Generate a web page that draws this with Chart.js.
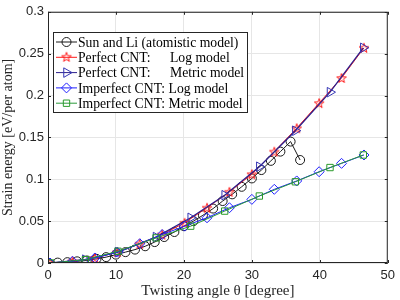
<!DOCTYPE html>
<html>
<head>
<meta charset="utf-8">
<script src="https://cdn.jsdelivr.net/npm/chart.js@4.4.1/dist/chart.umd.min.js"></script>
<style>
  html, body { margin: 0; padding: 0; background: #fff; }
  #wrap { width: 400px; height: 300px; }
</style>
</head>
<body>
<div id="wrap"><canvas id="chart"></canvas></div>
<script>
// Sun and Li (atomistic model)
var sunX = [0, 1.43, 2.85, 4.28, 5.71, 7.14, 8.56, 9.99, 11.4, 12.8, 14.3, 15.7, 17.1, 18.6,
            20.0, 21.4, 22.8, 24.3, 25.7, 27.1, 28.5, 30.0, 31.4, 32.8, 34.2, 35.7, 37.1];
var sunY = [0, 0.0005, 0.001, 0.002, 0.003, 0.005, 0.007, 0.010, 0.013, 0.016, 0.020, 0.025, 0.031, 0.037,
            0.044, 0.050, 0.057, 0.065, 0.074, 0.082, 0.091, 0.101, 0.111, 0.122, 0.133, 0.145, 0.123];

// log model points (perfect + imperfect share the angles)
var logX = [0.3, 3.6, 6.9, 10.2, 13.5, 16.8, 20.1, 23.4, 26.7, 30.0, 33.3, 36.6, 39.9, 43.2, 46.5];
var perfLogY = [0, 0.002, 0.006, 0.013, 0.023, 0.034, 0.048, 0.066, 0.085, 0.106, 0.133, 0.161, 0.191, 0.221, 0.257];
var impLogY = [0, 0.002, 0.006, 0.013, 0.023, 0.034, 0.044, 0.054, 0.066, 0.076, 0.088, 0.098, 0.109, 0.119, 0.129];

// metric model points
var metX = [0.4, 5.5, 10.3, 15.9, 21.0, 26.0, 31.1, 36.4, 41.5, 46.4];
var perfMetY = [0, 0.004, 0.013, 0.031, 0.054, 0.081, 0.115, 0.158, 0.204, 0.257];
var impMetY = [0, 0.004, 0.014, 0.030, 0.044, 0.062, 0.080, 0.097, 0.114, 0.129];

var xTicks = [0, 10, 20, 30, 40, 50];
var yTicks = [0, 0.05, 0.1, 0.15, 0.2, 0.25, 0.3];

var legendLabels = [
  ["Sun and Li (atomistic model)"],
  ["Perfect CNT:", "Log model"],
  ["Perfect CNT:", "Metric model"],
  ["Imperfect CNT: Log model"],
  ["Imperfect CNT: Metric model"]
];

function pts(xs, ys) {
  return xs.map(function (x, i) { return { x: x, y: ys[i] }; });
}

// pentagram marker like matlab 'p'
function makeStar(color) {
  var c = document.createElement('canvas');
  c.width = 12; c.height = 12;
  var g = c.getContext('2d');
  g.strokeStyle = color;
  g.lineWidth = 1;
  g.beginPath();
  for (var i = 0; i < 10; i++) {
    var r = (i % 2 === 0) ? 5 : 2;
    var a = -Math.PI / 2 + i * Math.PI / 5;
    var px = 6 + r * Math.cos(a), py = 6.5 + r * Math.sin(a);
    if (i === 0) g.moveTo(px, py); else g.lineTo(px, py);
  }
  g.closePath();
  g.stroke();
  return c;
}
var starImg = makeStar('#ff1a1a');

var none = 'rgba(0,0,0,0)';

// box around the plot area + inward ticks
var boxPlugin = {
  id: 'box',
  afterDraw: function (chart) {
    var a = chart.chartArea, ctx = chart.ctx;
    var xs = chart.scales.x, ys = chart.scales.y;
    ctx.save();
    ctx.strokeStyle = '#262626';
    ctx.lineWidth = 1;
    ctx.strokeRect(a.left + 0.5, a.top + 0.5, a.right - a.left - 1, a.bottom - a.top - 1);
    ctx.beginPath();
    xTicks.forEach(function (v) {
      var p = Math.round(xs.getPixelForValue(v)) + 0.5;
      ctx.moveTo(p, a.bottom); ctx.lineTo(p, a.bottom - 3);
      ctx.moveTo(p, a.top); ctx.lineTo(p, a.top + 3);
    });
    yTicks.forEach(function (v) {
      var p = Math.round(ys.getPixelForValue(v)) + 0.5;
      ctx.moveTo(a.left, p); ctx.lineTo(a.left + 3, p);
      ctx.moveTo(a.right, p); ctx.lineTo(a.right - 3, p);
    });
    ctx.stroke();
    ctx.restore();
  }
};

// matlab-style legend box in the upper left
var legendPlugin = {
  id: 'boxLegend',
  afterDraw: function (chart) {
    var ctx = chart.ctx;
    var bx = 53, by = 32, bw = 194, bh = 80;
    ctx.save();
    ctx.fillStyle = '#fff';
    ctx.fillRect(bx, by, bw, bh);
    ctx.strokeStyle = '#262626';
    ctx.lineWidth = 1;
    ctx.strokeRect(bx + 0.5, by + 0.5, bw, bh);
    chart.data.datasets.forEach(function (ds, row) {
      var y = by + 10 + row * 15.3;
      ctx.strokeStyle = ds.borderColor;
      ctx.lineWidth = 1;
      ctx.beginPath();
      ctx.moveTo(bx + 3, y); ctx.lineTo(bx + 24, y);
      ctx.stroke();
      if (ds.pointStyle instanceof HTMLCanvasElement) {
        ctx.drawImage(ds.pointStyle, bx + 13.5 - 6, y - 6.5);
      } else {
        ctx.fillStyle = none;
        ctx.strokeStyle = ds.pointBorderColor;
        Chart.helpers.drawPoint(ctx, {
          pointStyle: ds.pointStyle,
          rotation: ds.pointRotation || 0,
          radius: ds.pointRadius,
          borderWidth: 1
        }, bx + 13.5, y);
      }
      ctx.fillStyle = '#000';
      ctx.font = '13.7px "Liberation Serif"';
      ctx.textBaseline = 'middle';
      var lab = legendLabels[row];
      ctx.fillText(lab[0], bx + 25, y + 1);
      if (lab[1]) ctx.fillText(lab[1], bx + 117, y + 1);
    });
    ctx.restore();
  }
};

var ctx = document.getElementById('chart').getContext('2d');

new Chart(ctx, {
  type: 'scatter',
  data: {
    datasets: [
      {
        label: legendLabels[0][0],
        data: pts(sunX, sunY),
        showLine: true,
        borderColor: '#1a1a1a',
        borderWidth: 1,
        pointStyle: 'circle',
        pointRadius: 4.5,
        pointBorderColor: '#1a1a1a',
        pointBackgroundColor: none,
        pointBorderWidth: 1,
        order: 5
      },
      {
        label: 'Perfect CNT: Log model',
        data: pts(logX, perfLogY),
        showLine: true,
        borderColor: '#ff1a1a',
        borderWidth: 1,
        pointStyle: starImg,
        pointRadius: 5,
        order: 4
      },
      {
        label: 'Perfect CNT: Metric model',
        data: pts(metX, perfMetY),
        showLine: true,
        borderColor: '#2c1f8c',
        borderWidth: 1.3,
        pointStyle: 'triangle',
        pointRotation: 90,
        pointRadius: 5.5,
        pointBorderColor: '#3535b5',
        pointBackgroundColor: none,
        pointBorderWidth: 1,
        order: 3
      },
      {
        label: 'Imperfect CNT: Log model',
        data: pts(logX, impLogY),
        showLine: true,
        borderColor: '#1f1fff',
        borderWidth: 1,
        pointStyle: 'rectRot',
        pointRadius: 5,
        pointBorderColor: '#2020ff',
        pointBackgroundColor: none,
        pointBorderWidth: 1,
        order: 2
      },
      {
        label: 'Imperfect CNT: Metric model',
        data: pts(metX, impMetY),
        showLine: true,
        borderColor: '#2a9a3a',
        borderWidth: 1,
        pointStyle: 'rect',
        pointRadius: 4.5,
        pointBorderColor: '#2a9a2a',
        pointBackgroundColor: none,
        pointBorderWidth: 1,
        order: 1
      }
    ]
  },
  options: {
    responsive: true,
    maintainAspectRatio: false,
    animation: false,
    layout: { padding: { top: 8, right: 7, left: 0, bottom: 0 } },
    plugins: {
      legend: { display: false },
      tooltip: { enabled: false }
    },
    scales: {
      x: {
        type: 'linear',
        min: 0,
        max: 50,
        afterBuildTicks: function (s) { s.ticks = xTicks.map(function (v) { return { value: v }; }); },
        afterFit: function (s) { s.height = 37; },
        grid: { color: '#e6e6e6', drawTicks: false },
        border: { display: false },
        ticks: {
          padding: 5,
          color: '#262626',
          font: { size: 13, family: 'Liberation Sans' }
        },
        title: {
          display: true,
          text: 'Twisting angle θ [degree]',
          color: '#262626',
          padding: { top: 0, bottom: 0 },
          font: { size: 15, family: 'Liberation Serif' }
        }
      },
      y: {
        min: 0,
        max: 0.3,
        afterBuildTicks: function (s) { s.ticks = yTicks.map(function (v) { return { value: v }; }); },
        afterFit: function (s) { s.width = 48; },
        grid: { color: '#e6e6e6', drawTicks: false },
        border: { display: false },
        ticks: {
          padding: 4,
          color: '#262626',
          font: { size: 13, family: 'Liberation Sans' },
          callback: function (v) { return String(+v.toFixed(2)); }
        },
        title: {
          display: true,
          text: 'Strain energy [eV/per atom]',
          color: '#262626',
          padding: { top: 0, bottom: 0 },
          font: { size: 14, family: 'Liberation Serif' }
        }
      }
    }
  },
  plugins: [boxPlugin, legendPlugin]
});
</script>
</body>
</html>
